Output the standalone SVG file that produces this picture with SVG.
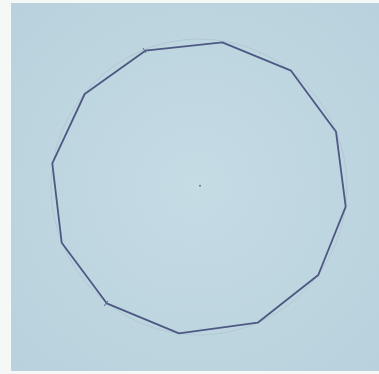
<svg xmlns="http://www.w3.org/2000/svg" width="379" height="374" viewBox="0 0 379 374">
<defs>
<radialGradient id="light" cx="0.5" cy="0.5" r="0.7">
<stop offset="0" stop-color="#c5dce5"/>
<stop offset="1" stop-color="#b8d1dc"/>
</radialGradient>
</defs>
<style>
.paper{fill:url(#light)}
.guide{fill:none;stroke:#a9bfc8;stroke-width:0.8;opacity:0.7}
.edge{fill:none;stroke:#4d5983;stroke-width:1.8;stroke-linejoin:round}
.tick{stroke:#5d6a8c;stroke-width:1}
</style>
<rect width="379" height="374" fill="#f6f8f8"/>
<rect class="paper" x="11" y="3" width="368" height="368"/>
<circle class="guide" cx="199" cy="187" r="148"/>
<g id="connectors">
<polygon class="edge" points="145.3,50.7 222.3,42.3 291,70.7 336,131.7 345.7,206.7 318.3,275 257.7,322.7 179,333.3 106.7,303.3 61.7,242.7 52.3,163.3 84.7,94"/>
</g>
<g id="ticks">
<path class="tick" d="M104,306 l4,-5 M143,48 l3,5 M334,128 l3,5"/>
</g>
<g id="center"><circle cx="200" cy="185.7" r="1" fill="#6b7890"/></g>
</svg>
